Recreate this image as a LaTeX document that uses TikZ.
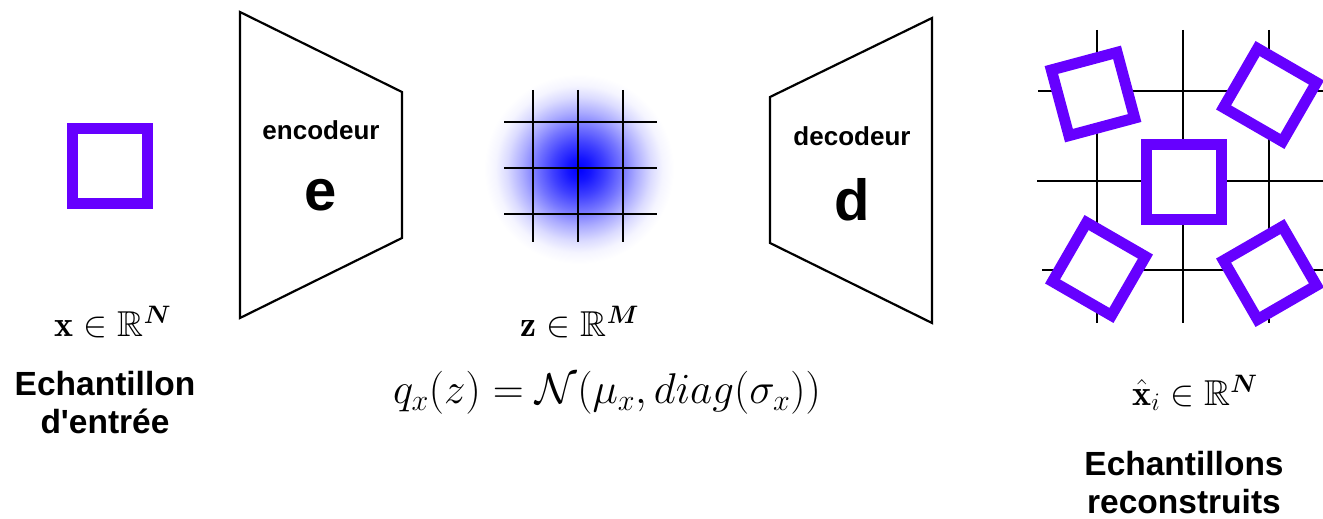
\RequirePackage{fix-cm}
\documentclass[tikz,border=0pt]{standalone}
\usepackage{amsmath,amssymb}
\usepackage{fontspec}
\newfontfamily\lib{Liberation Sans}
\definecolor{sqc}{RGB}{102,0,255}
\pgfdeclareradialshading{gauss}{\pgfpoint{0bp}{0bp}}{color(0bp)=(blue); color(3bp)=(blue!92); color(7bp)=(blue!75); color(11bp)=(blue!55); color(15bp)=(blue!33); color(19bp)=(blue!14); color(22bp)=(blue!4); color(25bp)=(white); color(50bp)=(white)}
\tikzset{
  trap/.style={draw=black, line width=2.2pt, line join=miter},
  gridline/.style={draw=black, line width=2pt},
  sqbig/.style={draw=sqc, fill=white, line width=11pt, minimum size=75pt, inner sep=0pt, rectangle},
  sqrot/.style={draw=sqc, fill=white, line width=11pt, minimum size=68pt, inner sep=0pt, rectangle},
  lbltxt/.style={font=\lib\fontsize{26}{30}\selectfont\bfseries, inner sep=0pt},
  bigtxt/.style={font=\lib\fontsize{58}{60}\selectfont\bfseries, inner sep=0pt},
  captxt/.style={font=\lib\fontsize{33.5}{38}\selectfont\bfseries, anchor=base, inner sep=0pt},
  mthtxt/.style={font=\fontsize{36}{40}\selectfont, inner sep=0pt},
  mthbigtxt/.style={font=\fontsize{43}{46}\selectfont, inner sep=0pt}
}
\begin{document}
\begin{tikzpicture}[x=1pt,y=-1pt]
\useasboundingbox (0,0) rectangle (1323,519);
% input sample
\node[sqbig] (xin) at (110,166) {};
\node[mthtxt] (xlab) at (113,322) {$\mathbf{x}\in\mathbb{R}^{\boldsymbol{N}}$};
\node[captxt] (xcap1) at (105,395) {Echantillon};
\node[captxt] (xcap2) at (105,433) {d'entrée};
% encoder
\draw[trap] (240,12) -- (402,92) -- (402,238) -- (240,318) -- cycle;
\node[lbltxt] (enc) at (321,130) {encodeur};
\node[bigtxt] (e) at (321,195) {e};
% latent
\shade[shading=gauss] (579,169) circle (95);
\foreach \xx in {533,578,623} \draw[gridline] (\xx,90) -- (\xx,242);
\foreach \yy in {122,168,214} \draw[gridline] (504,\yy) -- (657,\yy);
\node[mthtxt] (zlab) at (580,322) {$\mathbf{z}\in\mathbb{R}^{\boldsymbol{M}}$};
\node[mthbigtxt] (q) at (607,393) {$q_x(z) = \mathcal{N}(\mu_x, diag(\sigma_x))$};
% decoder
\draw[trap] (770,97) -- (932,18) -- (932,323) -- (770,243) -- cycle;
\node[lbltxt] (dec) at (852,136) {decodeur};
\node[bigtxt] (d) at (852,200) {d};
% reconstructed
\foreach \xx in {1097,1183,1269} \draw[gridline] (\xx,30) -- (\xx,323);
\draw[gridline] (1038,91) -- (1323,91);
\draw[gridline] (1037,181) -- (1323,181);
\draw[gridline] (1042,270) -- (1323,270);
\node[sqbig] (c) at (1184,182) {};
\node[sqrot, rotate=15] (tl) at (1093,94) {};
\node[sqrot, rotate=-30] (tr) at (1270,95) {};
\node[sqrot, rotate=-30] (bl) at (1099,269) {};
\node[sqrot, rotate=30] (br) at (1270,273) {};
\node[mthtxt] (xhat) at (1195,393) {$\hat{\mathbf{x}}_i\in\mathbb{R}^{\boldsymbol{N}}$};
\node[captxt] (rcap1) at (1184,475) {Echantillons};
\node[captxt] (rcap2) at (1184,513) {reconstruits};
\end{tikzpicture}
\end{document}
